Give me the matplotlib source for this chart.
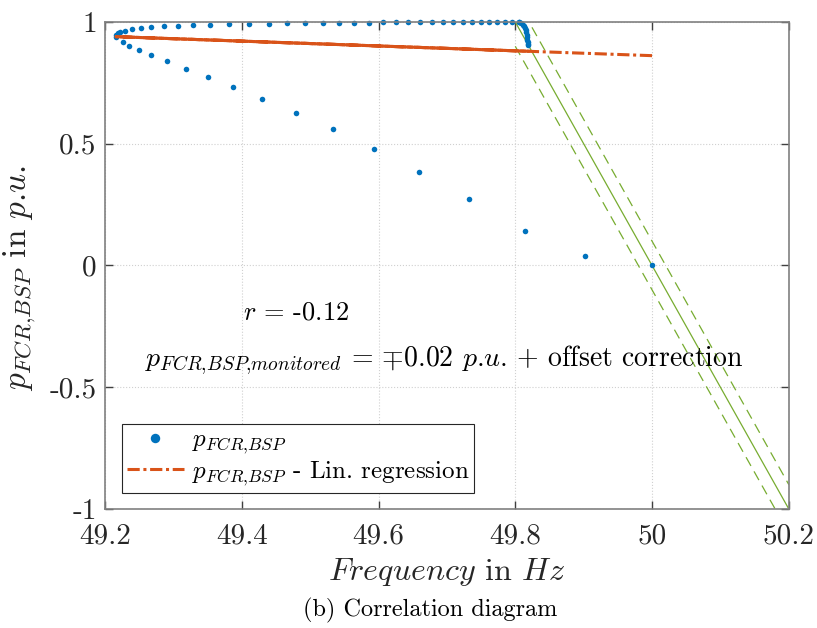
import matplotlib
matplotlib.use('Agg')
import matplotlib.pyplot as plt
import numpy as np

plt.rcParams['font.family'] = 'cmr10'
plt.rcParams['mathtext.fontset'] = 'cm'
plt.rcParams['axes.unicode_minus'] = False

# measured points in recorded order (lower branch, tip, upper branch, end cluster)
freq = [50.000, 49.902, 49.8145, 49.733, 49.6595, 49.593, 49.533, 49.479, 49.430,
        49.3876, 49.350, 49.318, 49.291, 49.268, 49.250, 49.2355, 49.226,
        49.2165, 49.2168, 49.219,
        49.2219, 49.2292, 49.2395, 49.2521, 49.2677, 49.2858, 49.3062, 49.3291,
        49.354, 49.3808, 49.41, 49.4393, 49.4666, 49.4929, 49.5182, 49.5416,
        49.564, 49.5855, 49.6059, 49.6249, 49.6435, 49.661, 49.6776, 49.6937,
        49.7088, 49.7229, 49.7365, 49.7492, 49.7614, 49.7731, 49.7843, 49.795, 49.8048,
        49.806, 49.809, 49.811, 49.813, 49.814, 49.815, 49.816, 49.8165, 49.817,
        49.8175, 49.818, 49.8185, 49.819]
p_fcr = [0.000, 0.038, 0.140, 0.272, 0.384, 0.478, 0.559, 0.628, 0.684,
         0.733, 0.774, 0.808, 0.839, 0.863, 0.884, 0.901, 0.917,
         0.940, 0.947, 0.954,
         0.958, 0.964, 0.970, 0.9754, 0.9795, 0.9822, 0.9849, 0.9877,
         0.989, 0.9904, 0.9932, 0.9932, 0.9945, 0.9945, 0.9959, 0.9959,
         0.9973, 0.9973, 0.9986, 0.9986, 0.999, 0.999, 0.999, 0.999,
         0.9995, 0.9995, 0.9995, 0.9995, 0.9995, 1.0, 1.0, 1.0, 1.0,
         0.998, 0.994, 0.989, 0.982, 0.974, 0.966, 0.957, 0.948, 0.938,
         0.928, 0.918, 0.910, 0.905]

# linear regression
reg_slope = -0.0995
reg_intercept = 5.8367

# droop characteristic and tolerance band
droop_f = [49.8, 50.2]
droop_p = [1.0, -1.0]
band = 0.1

freq = np.array(freq)
p_fcr = np.array(p_fcr)
p_reg = reg_intercept + reg_slope * freq

blue = '#0072BD'
orange = '#D95319'
green = '#77AC30'

fig = plt.figure(figsize=(8.17, 6.28), dpi=100)
ax = fig.add_axes([0.1285, 0.1895, 0.837, 0.7755])

ax.plot(droop_f, droop_p, color=green, lw=0.9)
ax.plot(droop_f, np.array(droop_p) - band, color=green, lw=0.9, ls=(0, (8, 5)))
ax.plot(droop_f, np.array(droop_p) + band, color=green, lw=0.9, ls=(0, (8, 5)))

ax.plot(freq, p_fcr, 'o', color=blue, ms=4, mew=0, clip_on=False,
        label=r'$p_{FCR{,}BSP}$')
ax.plot(freq, p_reg, color=orange, lw=2.2, ls=(0, (4, 1.2, 1, 1.2)),
        label=r'$p_{FCR{,}BSP}$ - Lin. regression')
# where the trajectory runs back and forth the dashes overlap into a solid line
up = slice(17, None)
ax.plot(freq[up], p_reg[up], color=orange, lw=2.2)

ax.set_xlim(49.2, 50.2)
ax.set_ylim(-1, 1)
ax.set_xticks([49.2, 49.4, 49.6, 49.8, 50, 50.2])
ax.set_xticklabels(['49.2', '49.4', '49.6', '49.8', '50', '50.2'])
ax.set_yticks([-1, -0.5, 0, 0.5, 1])
ax.set_yticklabels(['-1', '-0.5', '0', '0.5', '1'])
ax.tick_params(direction='in', length=6, width=1, color='#404040', labelsize=21,
               labelcolor='#262626', top=True, right=True)
ax.tick_params(axis='x', pad=10)
ax.tick_params(axis='y', pad=6)
ax.grid(True, ls=':', color='#d0d0d0', lw=0.8)
ax.set_axisbelow(True)
for s in ax.spines.values():
    s.set_color('#808080')
    s.set_linewidth(1.2)

ax.set_xlabel(r'$Frequency$ in $Hz$', fontsize=23, color='#262626', labelpad=5)
ax.set_ylabel(r'$p_{FCR{,}BSP}$ in $p$.$u$.', fontsize=24, color='#262626')
ax.yaxis.set_label_coords(-0.098, 0.475)

ax.text(49.402, -0.195, r'$r$ = -0.12', fontsize=19, va='center')
ax.text(49.2585, -0.39,
        r'$p_{FCR{,}BSP{,}monitored}$ = $\mp$0.02 $p$.$u$. + offset correction',
        fontsize=20, va='center')

leg = ax.legend(loc='lower left', bbox_to_anchor=(0.0244, 0.0335), borderaxespad=0,
                fontsize=18, fancybox=False, edgecolor='#262626', framealpha=1,
                handlelength=2.3, markerscale=1.7, borderpad=0.2, labelspacing=0.1,
                handletextpad=0.3)
leg.get_frame().set_linewidth(0.8)

fig.text(0.526, 0.028, '(b) Correlation diagram', fontsize=17.5, ha='center', va='center')

fig.savefig('out.png', dpi=100)
